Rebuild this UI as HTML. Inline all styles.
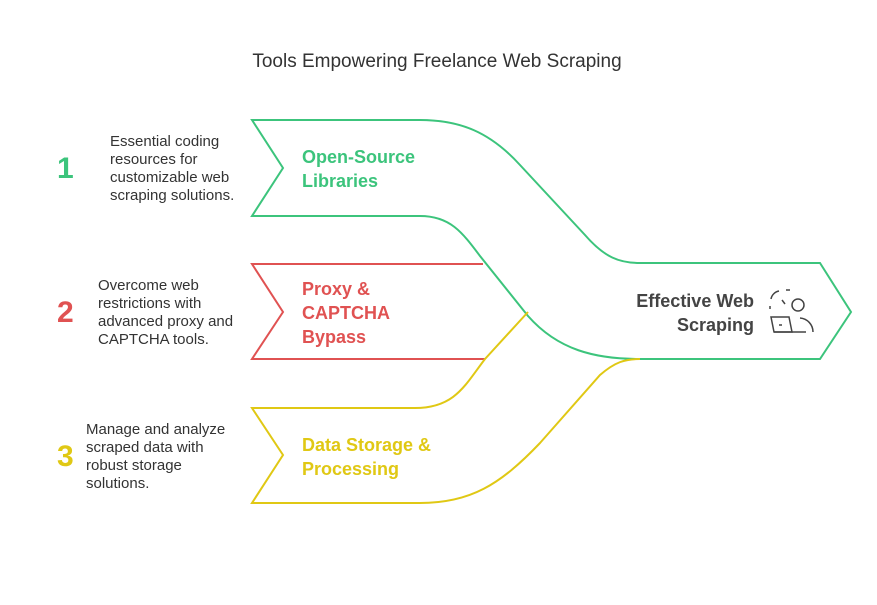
<!DOCTYPE html>
<html><head><meta charset="utf-8"><style>
body{margin:0;background:#fff;}
svg text{font-family:"Liberation Sans",sans-serif;}
</style></head><body>
<svg width="877" height="600" viewBox="0 0 877 600" xmlns="http://www.w3.org/2000/svg">
<rect width="877" height="600" fill="#fff"/>
<text x="437" y="67" text-anchor="middle" font-size="19" fill="#333">Tools Empowering Freelance Web Scraping</text>
<g fill="none" stroke-width="2">
<!-- green -->
<path d="M252,120 L283,168 L252,216 L420,216 C450,216 462,232 480,256 L528,316 C558,350 595,359 640,359 L820,359 L851,312 L820,263 L640,263 C620,263 605,258 585,235 L520,165 C490,132 460,120 420,120 Z" stroke="#3cc47c"/>
<!-- red -->
<path d="M483,264 L252,264 L283,312 L252,359 L485,359" stroke="#e05252"/>
<!-- yellow -->
<path d="M528,312 L485,359 C465,385 455,408 415,408 L252,408 L283,455 L252,503 L420,503 C470,503 500,485 540,443 L600,375 C615,362 625,359 640,359" stroke="#e0c814"/>
</g>
<g font-weight="bold" font-size="18">
<text x="302" y="163" fill="#3cc47c">Open-Source</text>
<text x="302" y="187" fill="#3cc47c">Libraries</text>
<text x="302" y="295" fill="#e05252">Proxy &amp;</text>
<text x="302" y="319" fill="#e05252">CAPTCHA</text>
<text x="302" y="343" fill="#e05252">Bypass</text>
<text x="302" y="451" fill="#e0c814">Data Storage &amp;</text>
<text x="302" y="475" fill="#e0c814">Processing</text>
<text x="754" y="307" text-anchor="end" fill="#444">Effective Web</text>
<text x="754" y="331" text-anchor="end" fill="#444">Scraping</text>
</g>
<g font-weight="bold" font-size="30">
<text x="57" y="178" fill="#3cc47c">1</text>
<text x="57" y="322" fill="#e05252">2</text>
<text x="57" y="466" fill="#e0c814">3</text>
</g>
<g font-size="15" fill="#333">
<text x="110" y="146">Essential coding</text>
<text x="110" y="164">resources for</text>
<text x="110" y="182">customizable web</text>
<text x="110" y="200">scraping solutions.</text>
<text x="98" y="290">Overcome web</text>
<text x="98" y="308">restrictions with</text>
<text x="98" y="326">advanced proxy and</text>
<text x="98" y="344">CAPTCHA tools.</text>
<text x="86" y="434">Manage and analyze</text>
<text x="86" y="452">scraped data with</text>
<text x="86" y="470">robust storage</text>
<text x="86" y="488">solutions.</text>
</g>
<g fill="none" stroke="#444" stroke-width="1.5">
<circle cx="798" cy="305" r="6"/>
<path d="M771,299 A10,10 0 0 1 779,291"/>
<path d="M786,290 L790,290"/>
<path d="M782,300 L785,304"/>
<path d="M770,306 L770,309"/>
<path d="M771,317 L789,317 L792,332 L774,332 Z"/>
<path d="M774,332 L806,332"/>
<path d="M779,325 L782,325"/>
<path d="M800,318 A14,14 0 0 1 813,332"/>
</g>
</svg>
</body></html>
